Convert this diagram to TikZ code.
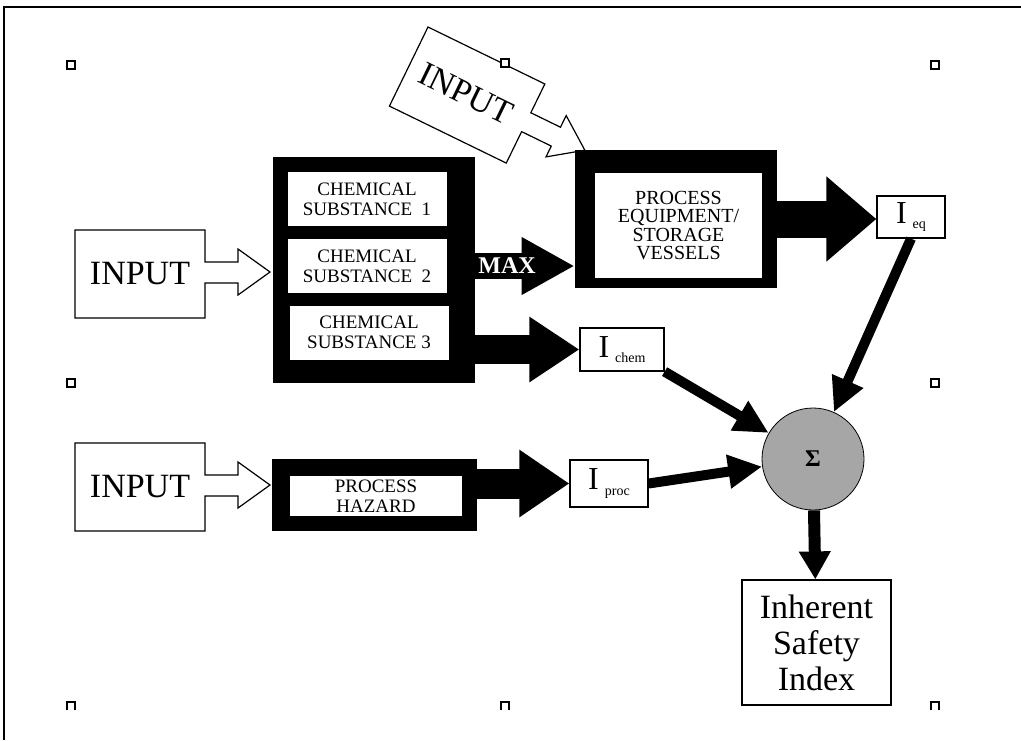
\documentclass[tikz,border=0pt]{standalone}
\usepackage{fontspec}
\setmainfont{Liberation Serif}
\usetikzlibrary{arrows.meta}
\usetikzlibrary{positioning}
\usetikzlibrary{calc}

\newcommand{\isub}[1]{{\fontsize{16}{16}\selectfont I}\hspace{3pt}\raisebox{-2.5pt}{\fontsize{7}{7}\selectfont #1}}

\tikzset{
  blk/.style={fill=black, inner sep=0pt},
  wbox/.style={fill=white, inner sep=0pt, align=center, font=\fontsize{9.5}{10}\selectfont},
  ibox/.style={draw, fill=white, line width=0.6pt, inner sep=0pt},
  intext/.style={inner sep=0pt, font=\fontsize{17}{17}\selectfont},
  maxlbl/.style={inner sep=0pt, text=white, font=\bfseries\fontsize{12}{12}\selectfont},
  handle/.style={line width=0.7pt, fill=white},
  fatarrow/.style n args={3}{line width=#1, -{Triangle[length=#2, width=#3]}},
  inarrow/.pic={
    \draw[line width=0.6pt, fill=white] (0,0) -- (130,0) -- (130,32) -- (163,32) -- (163,19)
      -- (195,42) -- (163,65) -- (163,53) -- (130,53) -- (130,88) -- (0,88) -- cycle;
  }
}

\begin{document}
\begin{tikzpicture}[x=0.5pt, y=-0.5pt]
    \useasboundingbox (0,0) rectangle (1021,740);
    % frame
    \draw[line width=1pt] (4,740) -- (4,7) -- (1021,7);

    % inputs
    \pic at (75,230) {inarrow};
    \node[intext] (in1) at (140,274) {INPUT};
    \pic at (75,443) {inarrow};
    \node[intext] (in2) at (140,487) {INPUT};
    \pic[rotate=-26] at (428,27) {inarrow};
    \node[intext, rotate=-26] (in3) at (466,94) {INPUT};

    % blocks
    \node[blk, minimum width=101pt, minimum height=113pt] (chem) at (374,270) {};
    \node[wbox, minimum width=79.5pt, minimum height=27pt] (sub1) at (367,199) {CHEMICAL\\SUBSTANCE\ \ 1};
    \node[wbox, minimum width=79.5pt, minimum height=27pt] (sub2) at (367,266) {CHEMICAL\\SUBSTANCE\ \ 2};
    \node[wbox, minimum width=79.5pt, minimum height=27pt] (sub3) at (369,332.5) {CHEMICAL\\SUBSTANCE 3};

    \node[blk, minimum width=101pt, minimum height=69pt] (proc) at (676,219) {};
    \node[wbox, minimum width=83.5pt, minimum height=52.5pt, font=\fontsize{10}{9.2}\selectfont] (procin) at (678.5,225.5) {PROCESS\\EQUIPMENT/\\STORAGE\\VESSELS};

    \node[blk, minimum width=102.5pt, minimum height=36pt] (haz) at (374.5,495) {};
    \node[wbox, minimum width=86pt, minimum height=20pt] (hazin) at (376,496) {PROCESS\\HAZARD};

    % indices
    \node[ibox, minimum width=34pt, minimum height=21pt] (ieq) at (911,217) {\isub{eq}};
    \node[ibox, minimum width=42pt, minimum height=21.5pt] (ichem) at (622,349.5) {\isub{chem}};
    \node[ibox, minimum width=39pt, minimum height=23.5pt] (iproc) at (609,483.5) {\isub{proc}};
    \node[circle, draw, fill=gray!70, minimum size=51pt, inner sep=0pt, font=\bfseries\fontsize{12}{12}\selectfont] (sigma) at (813,459) {Σ};
    \node[ibox, minimum width=74.5pt, minimum height=62.5pt, align=center, font=\fontsize{17}{18}\selectfont] (index) at (816.5,642.5) {Inherent\\Safety\\Index};

    % arrows
    \draw[fatarrow={13pt}{26.5pt}{27pt}] (chem.east |- sub2) -- (proc.west |- sub2) node[maxlbl, pos=0.32] {MAX};
    \draw[fatarrow={14.5pt}{25pt}{31pt}] (chem.east |- ichem) -- (ichem.west);
    \draw[fatarrow={18.5pt}{25pt}{41pt}] (proc.east) -- (proc.east -| ieq.west);
    \draw[fatarrow={15pt}{25pt}{32pt}] (haz.east |- iproc) -- (iproc.west);
    \draw[fatarrow={5pt}{17pt}{16pt}] (ieq.south) -- (sigma);
    \draw[fatarrow={5pt}{17pt}{16pt}] (ichem.south east) -- (sigma);
    \draw[fatarrow={5pt}{17pt}{16pt}] (iproc.east) -- (sigma);
    \draw[fatarrow={6pt}{14pt}{15pt}] (sigma) -- (index);

    % handles
    \foreach \hx/\hy in {71/65, 505/63, 935/65, 71/383, 935/383}
        \draw[handle] (\hx-4,\hy-4) rectangle (\hx+4,\hy+4);
    \foreach \hx in {71, 505, 935}
        \draw[line width=0.7pt] (\hx-4,710) -- (\hx-4,702) -- (\hx+4,702) -- (\hx+4,710);
\end{tikzpicture}
\end{document}
